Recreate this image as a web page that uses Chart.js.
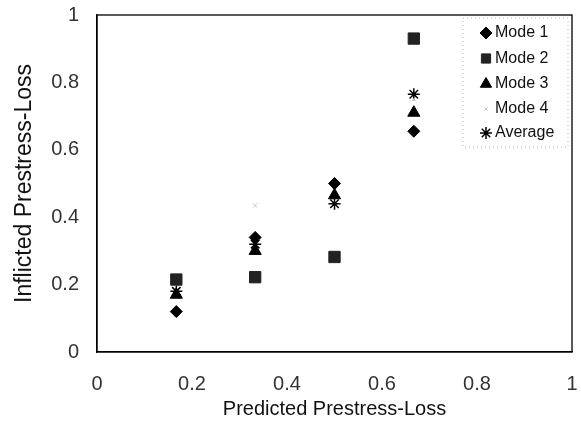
<!DOCTYPE html>
<html><head><meta charset="utf-8">
<script src="https://cdn.jsdelivr.net/npm/chart.js@4/dist/chart.umd.min.js"></script>
<style>html,body{margin:0;padding:0;background:#fff}#wrap{width:581px;height:425px}</style>
</head><body><div id="wrap"><canvas id="c" width="581" height="425"></canvas></div>
<script>
const predicted = [0.167, 0.333, 0.5, 0.667];
const mode1 = [0.12, 0.34, 0.50, 0.655];
const mode2 = [0.215, 0.222, 0.282, 0.93];
const mode3 = [0.17, 0.30, 0.465, 0.71];
const mode4 = [0.20, 0.435, 0.49, 0.75];
const average = [0.18, 0.32, 0.44, 0.765];
const seriesNames = ['Mode 1', 'Mode 2', 'Mode 3', 'Mode 4', 'Average'];
const xTicks = [0, 0.2, 0.4, 0.6, 0.8, 1];
const yTicks = [0, 0.2, 0.4, 0.6, 0.8, 1];

const FONT = '"Liberation Sans", Arial, sans-serif';
const styles = [
  {pointStyle:'rectRot', radius:6, bg:'#000', border:'#000', bw:1},
  {pointStyle:'rect', radius:8, bg:'#222', border:'#222', bw:1},
  {pointStyle:'triangle', radius:7, bg:'#000', border:'#000', bw:1},
  {pointStyle:'crossRot', radius:3, bg:'#ccc', border:'#c8c8c8', bw:1},
  {pointStyle:'star', radius:6, bg:'#000', border:'#000', bw:1.5}
];
const allVals = [mode1, mode2, mode3, mode4, average];
const datasets = allVals.map((vals, i) => ({
  label: seriesNames[i],
  data: predicted.map((x, j) => ({x: x, y: vals[j]})),
  pointStyle: styles[i].pointStyle,
  pointRadius: styles[i].radius,
  pointHoverRadius: styles[i].radius,
  backgroundColor: styles[i].bg,
  borderColor: styles[i].border,
  pointBorderWidth: styles[i].bw,
  showLine: false
}));

const frame = {
  id: 'frame',
  afterDatasetsDraw(chart) {
    const a = chart.chartArea, ctx = chart.ctx;
    ctx.save();
    ctx.strokeStyle = '#000'; ctx.lineWidth = 1.3;
    ctx.strokeRect(a.left, a.top, a.right - a.left, a.bottom - a.top);
    // legend
    const lx = 463, ly = 18, lw = 105, lh = 129;
    ctx.strokeStyle = '#bbb'; ctx.lineWidth = 1; ctx.setLineDash([1, 3]);
    ctx.strokeRect(lx, ly, lw, lh);
    ctx.setLineDash([]);
    ctx.font = '16px ' + FONT;
    ctx.textBaseline = 'middle';
    const rowY = [33, 58.5, 84, 109, 133];
    const legR = [6, 6.5, 6.5, 2.5, 6];
    seriesNames.forEach((n, i) => {
      const s = styles[i];
      ctx.fillStyle = s.bg; ctx.strokeStyle = s.border; ctx.lineWidth = s.bw;
      Chart.helpers.drawPoint(ctx, {pointStyle: s.pointStyle, radius: legR[i], borderWidth: s.bw, rotation: 0}, 486, rowY[i]);
      ctx.fillStyle = '#111';
      ctx.fillText(n, 495, rowY[i]);
    });
    ctx.restore();
  }
};

new Chart(document.getElementById('c'), {
  type: 'scatter',
  data: {datasets},
  options: {
    responsive: false,
    animation: false,
    events: [],
    layout: {padding: {left: 0, right: 9, top: 15, bottom: 0}},
    plugins: {legend: {display: false}, tooltip: {enabled: false}},
    scales: {
      x: {
        type: 'linear', min: 0, max: 1,
        afterBuildTicks: s => { s.ticks = xTicks.map(v => ({value: v})); },
        afterFit: s => { s.height = 73; s.paddingLeft = 0; s.paddingRight = 0; },
        grid: {display: false, drawTicks: false},
        border: {display: true, color: '#000', width: 1.3},
        ticks: {padding: 20, color: '#333', font: {family: FONT, size: 20}, callback: v => String(v)},
        title: {display: true, text: 'Predicted Prestress-Loss', color: '#111', padding: {top: 0, bottom: 4}, font: {family: FONT, size: 20}}
      },
      y: {
        type: 'linear', min: 0, max: 1,
        afterBuildTicks: s => { s.ticks = yTicks.map(v => ({value: v})); },
        afterFit: s => { s.width = 97; s.paddingTop = 0; s.paddingBottom = 0; },
        grid: {display: false, drawTicks: false},
        border: {display: true, color: '#000', width: 1.3},
        ticks: {padding: 18, color: '#333', font: {family: FONT, size: 20}, callback: v => String(v)},
        title: {display: true, text: 'Inflicted Prestress-Loss', color: '#111', padding: {top: 11, bottom: 0}, font: {family: FONT, size: 23}}
      }
    }
  },
  plugins: [frame]
});
</script>
</body></html>
